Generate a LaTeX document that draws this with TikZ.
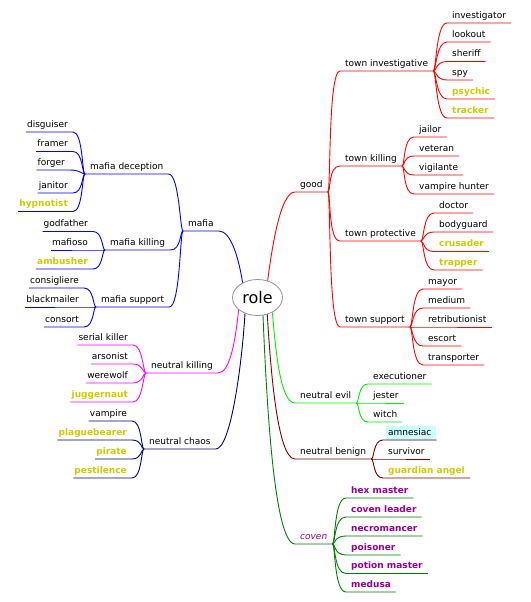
\documentclass[tikz,border=0pt]{standalone}
\usepackage{fontspec}
\setmainfont{DejaVu Sans}
\usetikzlibrary{shapes.geometric,backgrounds}
\definecolor{cred}{RGB}{255,0,0}
\definecolor{cblue}{RGB}{0,0,255}
\definecolor{cmag}{RGB}{255,0,255}
\definecolor{cnavy}{RGB}{0,0,128}
\definecolor{clime}{RGB}{0,240,0}
\definecolor{cmaroon}{RGB}{128,0,0}
\definecolor{cgreen}{RGB}{0,128,0}
\definecolor{cyel}{RGB}{204,204,0}
\definecolor{cpur}{RGB}{153,0,153}
\definecolor{ccyan}{RGB}{204,255,255}
\tikzset{
  lbl/.style={inner xsep=5pt, inner ysep=2pt, text height=7pt, text depth=2.5pt,
    font=\fontsize{9}{11}\selectfont, anchor=south west},
  lft/.style={lbl, anchor=south east},
  yel/.style={text=cyel, font=\fontsize{9}{11}\selectfont\bfseries},
  pur/.style={text=cpur, font=\fontsize{9}{11}\selectfont\bfseries},
  edge/.style={line width=0.9pt},
  rootnode/.style={ellipse, draw=gray!85, line width=0.8pt, fill=white, minimum width=50pt,
    minimum height=36pt, inner sep=0pt, font=\fontsize{16}{18}\selectfont}
}
\begin{document}
\begin{tikzpicture}[x=1pt,y=-1pt]
\useasboundingbox (0,0) rectangle (530,602);

\node[rootnode] (root) at (257.5,297.5) {role};

% ---------- right side nodes ----------
\node[lbl] (good) at (295,192) {good};
\node[lbl] (ti) at (340,71) {town investigative};
\node[lbl] (tk) at (340,166) {town killing};
\node[lbl] (tp) at (340,241) {town protective};
\node[lbl] (ts) at (340,327) {town support};

\node[lbl] (inv) at (447,23) {investigator};
\node[lbl] (look) at (447,42) {lookout};
\node[lbl] (sher) at (447,61.5) {sheriff};
\node[lbl] (spy) at (447,80) {spy};
\node[lbl,yel] (psy) at (447,99) {psychic};
\node[lbl,yel] (trk) at (447,118) {tracker};

\node[lbl] (jail) at (414,137) {jailor};
\node[lbl] (vet) at (414,156) {veteran};
\node[lbl] (vig) at (414,175) {vigilante};
\node[lbl] (vh) at (414,194) {vampire hunter};

\node[lbl] (doc) at (434,213) {doctor};
\node[lbl] (bg) at (434,232) {bodyguard};
\node[lbl,yel] (cru) at (434,251.5) {crusader};
\node[lbl,yel] (trap) at (434,270) {trapper};

\node[lbl] (may) at (423,289) {mayor};
\node[lbl] (med) at (423,308) {medium};
\node[lbl] (ret) at (423,327) {retributionist};
\node[lbl] (esc) at (423,346) {escort};
\node[lbl] (trans) at (423,365) {transporter};

\node[lbl] (ne) at (295,403) {neutral evil};
\node[lbl] (exe) at (368,384) {executioner};
\node[lbl] (jest) at (368,403) {jester};
\node[lbl] (witch) at (368,422) {witch};

\node[lbl] (nb) at (295,459) {neutral benign};
\node[lbl] (amn) at (383,440) {amnesiac};
\node[lbl] (surv) at (383,459) {survivor};
\node[lbl,yel] (ga) at (383,478) {guardian angel};

\node[lbl,text=cpur,font=\fontsize{9}{11}\selectfont\itshape] (cov) at (295,544) {coven};
\node[lbl,pur] (hex) at (346,498) {hex master};
\node[lbl,pur] (cl) at (346,517) {coven leader};
\node[lbl,pur] (necro) at (346,536) {necromancer};
\node[lbl,pur] (pois) at (346,555) {poisoner};
\node[lbl,pur] (pm) at (346,573.5) {potion master};
\node[lbl,pur] (medu) at (346,592) {medusa};

% ---------- left side nodes ----------
\node[lbl] (mafia) at (183,231) {mafia};
\node[lbl] (md) at (85,174) {mafia deception};
\node[lbl] (mk) at (105,250) {mafia killing};
\node[lbl] (ms) at (96,307) {mafia support};

\node[lft] (disg) at (73,132) {disguiser};
\node[lft] (fram) at (73,151.5) {framer};
\node[lft] (forg) at (70,170) {forger};
\node[lft] (jan) at (73,193) {janitor};
\node[lft,yel] (hyp) at (73,211.5) {hypnotist};

\node[lft] (god) at (93,231.5) {godfather};
\node[lft] (maf) at (93,250) {mafioso};
\node[lft,yel] (amb) at (93,269) {ambusher};

\node[lft] (cons) at (84,288) {consigliere};
\node[lft] (black) at (84,307) {blackmailer};
\node[lft] (consort) at (84,327) {consort};

\node[lbl] (nk) at (146,373) {neutral killing};
\node[lft] (sk) at (133,345) {serial killer};
\node[lft] (ars) at (133,364) {arsonist};
\node[lft] (ww) at (133,383) {werewolf};
\node[lft,yel] (jug) at (133,402) {juggernaut};

\node[lbl] (nc) at (144,449) {neutral chaos};
\node[lft] (vamp) at (132,421) {vampire};
\node[lft,yel] (plag) at (132,440) {plaguebearer};
\node[lft,yel] (pir) at (132,459) {pirate};
\node[lft,yel] (pest) at (132,478) {pestilence};

% amnesiac highlight
\begin{scope}[on background layer]
  \fill[ccyan] ([xshift=3pt,yshift=-0.6pt]amn.south west) rectangle ([xshift=-1pt,yshift=0.5pt]amn.north east);
\end{scope}

% ---------- root edges ----------
\draw[edge,cred] (root.59) .. controls +(4,-30) and +(-15,0) .. (good.south west) -- (good.south east);
\draw[edge,clime] (root.315) .. controls +(3,35) and +(-15,0) .. (ne.south west) -- (ne.south east);
\draw[edge,cmaroon] (root.300) .. controls +(3,50) and +(-18,0) .. (nb.south west) -- (nb.south east);
\draw[edge,cgreen] (root.287) .. controls +(3,70) and +(-22,0) .. (cov.south west) -- (cov.south east);
\draw[edge,cblue] (root.135) .. controls +(-4,-25) and +(12,0) .. (mafia.south east) -- (mafia.south west);
\draw[edge,cmag] (root.213) .. controls +(-3,30) and +(12,0) .. (nk.south east) -- (nk.south west);
\draw[edge,cnavy] (root.232) .. controls +(-3,50) and +(15,0) .. (nc.south east) -- (nc.south west);

% ---------- good subtree ----------
\foreach \c in {ti,tk,tp,ts}
  \draw[edge,cred] (good.south east) .. controls +(3,0) and +(-12,0) .. (\c.south west) -- (\c.south east);
\foreach \c in {inv,look,sher,spy,psy,trk}
  \draw[edge,cred] (ti.south east) .. controls +(3,0) and +(-11,0) .. (\c.south west) -- (\c.south east);
\foreach \c in {jail,vet,vig,vh}
  \draw[edge,cred] (tk.south east) .. controls +(3,0) and +(-11,0) .. (\c.south west) -- (\c.south east);
\foreach \c in {doc,bg,cru,trap}
  \draw[edge,cred] (tp.south east) .. controls +(3,0) and +(-11,0) .. (\c.south west) -- (\c.south east);
\foreach \c in {may,med,ret,esc,trans}
  \draw[edge,cred] (ts.south east) .. controls +(3,0) and +(-11,0) .. (\c.south west) -- (\c.south east);

\foreach \c in {exe,jest,witch}
  \draw[edge,clime] (ne.south east) .. controls +(3,0) and +(-10,0) .. (\c.south west) -- (\c.south east);
\foreach \c in {amn,surv,ga}
  \draw[edge,cmaroon] (nb.south east) .. controls +(3,0) and +(-10,0) .. (\c.south west) -- (\c.south east);
\foreach \c in {hex,cl,necro,pois,pm,medu}
  \draw[edge,cgreen] (cov.south east) .. controls +(3,0) and +(-12,0) .. (\c.south west) -- (\c.south east);

% ---------- left subtrees ----------
\foreach \c in {md,mk,ms}
  \draw[edge,cblue] (mafia.south west) .. controls +(-3,0) and +(11,0) .. (\c.south east) -- (\c.south west);
\foreach \c in {disg,fram,forg,jan,hyp}
  \draw[edge,cblue] (md.south west) .. controls +(-3,0) and +(10,0) .. (\c.south east) -- ([xshift=4pt]\c.south west);
\foreach \c in {god,maf,amb}
  \draw[edge,cblue] (mk.south west) .. controls +(-3,0) and +(10,0) .. (\c.south east) -- ([xshift=4pt]\c.south west);
\foreach \c in {cons,black,consort}
  \draw[edge,cblue] (ms.south west) .. controls +(-3,0) and +(10,0) .. (\c.south east) -- ([xshift=4pt]\c.south west);
\foreach \c in {sk,ars,ww,jug}
  \draw[edge,cmag] (nk.south west) .. controls +(-3,0) and +(10,0) .. (\c.south east) -- ([xshift=4pt]\c.south west);
\foreach \c in {vamp,plag,pir,pest}
  \draw[edge,cnavy] (nc.south west) .. controls +(-3,0) and +(10,0) .. (\c.south east) -- ([xshift=4pt]\c.south west);
\end{tikzpicture}
\end{document}
